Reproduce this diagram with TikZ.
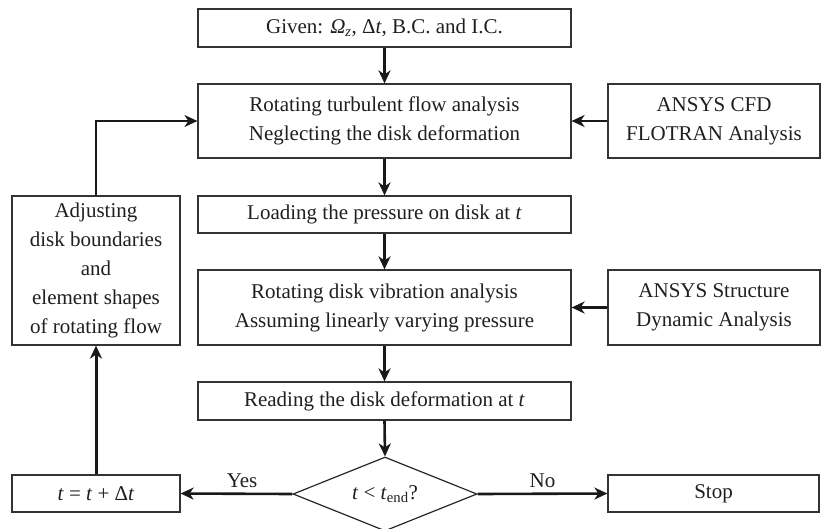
\documentclass[tikz,border=0pt]{standalone}
\usepackage{fontspec}
\setmainfont{Liberation Serif}
\usetikzlibrary{shapes.geometric,arrows.meta}
\begin{document}
\begin{tikzpicture}[x=1pt,y=1pt,
  box/.style={draw=black!80, line width=1.2pt, rectangle, inner sep=0pt, align=center,
    font=\fontsize{21}{29}\selectfont, text=black!88},
  flow/.style={draw=black!90, line width=2.6pt, -{Stealth[length=13pt,width=12pt,inset=4pt]}},
  thinflow/.style={draw=black!90, line width=1.5pt, -{Stealth[length=13pt,width=12pt,inset=4pt]}},
  lbl/.style={font=\fontsize{21}{29}\selectfont, text=black!88}
]
\useasboundingbox (0,0) rectangle (821,-528);
\node[box, minimum width=373pt, minimum height=38pt] (given) at (384.5,-28)
  {Given: \textit{Ω}\textsubscript{\textit{z}}, Δ\textit{t}, B.C. and I.C.};
\node[box, minimum width=373pt, minimum height=74pt] (flowb) at (384.5,-121)
  {Rotating turbulent flow analysis\\Neglecting the disk deformation};
\node[box, minimum width=373pt, minimum height=37pt] (load) at (384.5,-214.5)
  {Loading the pressure on disk at \textit{t}};
\node[box, minimum width=373pt, minimum height=75pt] (vib) at (384.5,-307.5)
  {Rotating disk vibration analysis\\Assuming linearly varying pressure};
\node[box, minimum width=373pt, minimum height=38pt] (read) at (384.5,-401)
  {Reading the disk deformation at \textit{t}};
\node[diamond, draw=black!85, line width=1.2pt, minimum width=184pt, minimum height=74pt, inner sep=0pt] (dec) at (385,-494) {};
\node[lbl] at (dec) {\textit{t} < \textit{t}\textsubscript{end}?};
\node[box, minimum width=168pt, minimum height=37pt] (tbox) at (96,-493.5)
  {\textit{t} = \textit{t} + Δ\textit{t}};
\node[box, minimum width=211pt, minimum height=37pt] (stop) at (713.5,-493.5) {Stop};
\node[box, minimum width=212pt, minimum height=74pt] (cfd) at (714,-121)
  {ANSYS CFD\\FLOTRAN Analysis};
\node[box, minimum width=212pt, minimum height=75pt] (struct) at (714,-307.5)
  {ANSYS Structure\\Dynamic Analysis};
\node[box, minimum width=168pt, minimum height=149pt] (adj) at (96,-270.5)
  {Adjusting\\disk boundaries\\and\\element shapes\\of rotating flow};

\draw[flow] (given.south) -- (flowb.north);
\draw[flow] (flowb.south) -- (load.north);
\draw[flow] (load.south) -- (vib.north);
\draw[flow] (vib.south) -- (read.north);
\draw[flow] (read.south) -- (dec.north);
\draw[flow] (dec.west) -- node[lbl, pos=0.45, above=1pt] {Yes} (tbox.east);
\draw[flow] (dec.east) -- node[lbl, midway, above=1pt] {No} (stop.west);
\draw[flow, line width=3pt] (tbox.north) -- (adj.south);
\draw[thinflow] (adj.north) |- (flowb.west);
\draw[thinflow, line width=2pt] (cfd.west) -- (flowb.east);
\draw[flow, line width=2.8pt] (struct.west) -- (vib.east);
\end{tikzpicture}
\end{document}
